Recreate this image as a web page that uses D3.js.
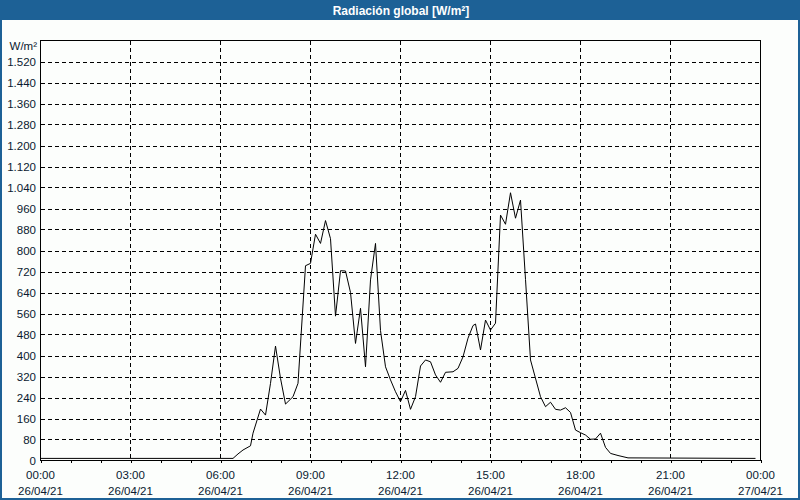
<!DOCTYPE html>
<html>
<head>
<meta charset="utf-8">
<script src="https://cdn.jsdelivr.net/npm/d3@7"></script>
<style>
  html, body { margin: 0; padding: 0; background: #fcfefc; }
  svg { display: block; }
</style>
</head>
<body>
<script>
const title = "Radiación global [W/m²]";
const unitLabel = "W/m²";
const times = ["00:00","06:25","06:35","06:45","07:00","07:05","07:20","07:30","07:40","07:50",
  "08:00","08:10","08:25","08:35","08:50","09:00","09:10","09:20","09:30","09:40",
  "09:50","10:00","10:10","10:20","10:30","10:40","10:50","11:00","11:10","11:20",
  "11:30","11:40","11:50","12:00","12:10","12:20","12:30","12:40","12:50","13:00",
  "13:10","13:20","13:30","13:45","13:55","14:05","14:15","14:25","14:30","14:40",
  "14:50","15:00","15:10","15:20","15:30","15:40","15:50","16:00","16:10","16:20",
  "16:40","16:50","17:00","17:10","17:20","17:30","17:40","17:50","18:00","18:10",
  "18:20","18:30","18:40","18:50","19:00","19:15","19:35","23:50"];
const values = [8,8,25,40,56,104,196,173,294,436,
  313,215,243,294,742,751,862,827,914,845,
  550,723,722,640,446,580,357,688,827,495,
  357,307,262,224,267,195,243,360,383,376,
  326,298,336,338,351,395,466,514,520,421,
  535,497,523,935,900,1020,923,992,690,383,
  243,205,222,195,192,201,183,116,106,97,
  81,82,104,50,27,19,10,8];
const yTicks = [0,80,160,240,320,400,480,560,640,720,800,880,960,1040,1120,1200,1280,1360,1440,1520];
const yTickLabels = ["0","80","160","240","320","400","480","560","640","720","800","880","960","1.040","1.120","1.200","1.280","1.360","1.440","1.520"];
const xTickTimes = ["2021-04-26T00:00","2021-04-26T03:00","2021-04-26T06:00","2021-04-26T09:00","2021-04-26T12:00","2021-04-26T15:00","2021-04-26T18:00","2021-04-26T21:00","2021-04-27T00:00"];
const xTickLabels1 = ["00:00","03:00","06:00","09:00","12:00","15:00","18:00","21:00","00:00"];
const xTickLabels2 = ["26/04/21","26/04/21","26/04/21","26/04/21","26/04/21","26/04/21","26/04/21","26/04/21","27/04/21"];
const day = "2021-04-26";

const W = 800, H = 500;
const m = {left: 40.5, right: 760.5, top: 40.5, bottom: 460.5};
const parse = d3.timeParse("%Y-%m-%dT%H:%M");
const data = times.map((t, i) => ({t: parse(day + "T" + t), v: values[i]}));

const x = d3.scaleTime()
  .domain([parse("2021-04-26T00:00"), parse("2021-04-27T00:00")])
  .range([m.left, m.right]);
const y = d3.scaleLinear().domain([0, 1600]).range([m.bottom, m.top]);

const svg = d3.select("body").append("svg").attr("width", W).attr("height", H);
const font = "Tahoma, 'Liberation Sans', 'DejaVu Sans', sans-serif";

svg.append("rect").attr("x", 0).attr("y", 0).attr("width", W).attr("height", H).attr("fill", "#fcfefc");
// title bar
svg.append("rect").attr("x", 0).attr("y", 0).attr("width", W).attr("height", 20).attr("fill", "#1d6196");
svg.append("text").attr("x", 401).attr("y", 14.5).attr("text-anchor", "middle")
  .attr("fill", "#ffffff").attr("font-family", font).attr("font-weight", "bold").attr("font-size", "12px")
  .text(title);
// outer frame
svg.append("rect").attr("x", 1).attr("y", 1).attr("width", W - 2).attr("height", H - 2)
  .attr("fill", "none").attr("stroke", "#1d6196").attr("stroke-width", 2);

// grid
const grid = svg.append("g").attr("shape-rendering", "crispEdges");
grid.selectAll("line.h").data(yTicks.filter(d => d > 0)).enter().append("line")
  .attr("x1", m.left).attr("x2", m.right)
  .attr("y1", d => Math.round(y(d)) + 0.5).attr("y2", d => Math.round(y(d)) + 0.5)
  .attr("stroke", "#000").attr("stroke-dasharray", "4,3");
const xTicks = xTickTimes.map(parse);
grid.selectAll("line.v").data(xTicks.slice(1, -1)).enter().append("line")
  .attr("y1", m.top).attr("y2", m.bottom)
  .attr("x1", d => Math.round(x(d)) - 0.5).attr("x2", d => Math.round(x(d)) - 0.5)
  .attr("stroke", "#000").attr("stroke-dasharray", "4,3");

// x axis with hourly minor ticks
const xAxis = d3.axisBottom(x).ticks(d3.timeHour.every(1)).tickSize(3).tickFormat("");
const gx = svg.append("g").attr("transform", `translate(0,${m.bottom - 0.5})`).call(xAxis);
gx.select(".domain").remove();
gx.selectAll("line").attr("stroke", "#000").attr("shape-rendering", "crispEdges");

// x labels
const xl = svg.append("g").attr("font-family", font).attr("font-size", "11.5px").attr("fill", "#0a1a30");
xl.selectAll("text.a").data(xTicks).enter().append("text")
  .attr("x", d => x(d)).attr("y", 479).attr("text-anchor", "middle")
  .text((d, i) => xTickLabels1[i]);
xl.selectAll("text.b").data(xTicks).enter().append("text")
  .attr("x", d => x(d)).attr("y", 495).attr("text-anchor", "middle")
  .text((d, i) => xTickLabels2[i]);

// y labels
const yl = svg.append("g").attr("font-family", font).attr("font-size", "11.5px").attr("fill", "#0a1a30");
yl.selectAll("text").data(yTicks).enter().append("text")
  .attr("x", 36).attr("y", d => y(d) + 4).attr("text-anchor", "end")
  .text((d, i) => yTickLabels[i]);
yl.append("text").attr("x", 37).attr("y", 50).attr("text-anchor", "end").text(unitLabel);

// line
const line = d3.line().x(d => x(d.t)).y(d => y(d.v));
svg.append("path").datum(data).attr("d", line)
  .attr("fill", "none").attr("stroke", "#000").attr("stroke-width", 1);

// plot border
svg.append("rect").attr("x", m.left - 0.5).attr("y", m.top - 0.5)
  .attr("width", m.right - m.left).attr("height", m.bottom - m.top)
  .attr("fill", "none").attr("stroke", "#000").attr("stroke-width", 1).attr("shape-rendering", "crispEdges");
</script>
</body>
</html>
